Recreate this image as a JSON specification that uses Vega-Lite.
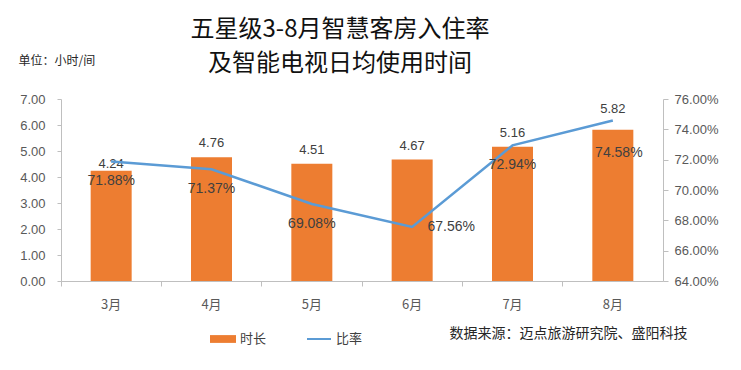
{
  "$schema": "https://vega.github.io/schema/vega-lite/v6.json",
  "width": 602,
  "height": 182,
  "autosize": {"type": "none"},
  "padding": {"left": 61, "top": 99, "right": 78, "bottom": 89},
  "background": "white",
  "config": {
    "view": {"stroke": null},
    "font": "Liberation Sans",
    "axis": {"grid": false, "domainColor": "#BFBFBF", "tickColor": "#BFBFBF", "labelColor": "#595959", "labelFontSize": 13, "labelFont": "Liberation Sans"},
    "legend": {"labelFont": "Noto Sans CJK SC", "labelFontSize": 13, "labelColor": "#404040"}
  },
  "title": {
    "text": ["五星级3-8月智慧客房入住率", "及智能电视日均使用时间"],
    "font": "Noto Sans CJK SC",
    "fontSize": 24,
    "fontWeight": "normal",
    "lineHeight": 34,
    "color": "#111111",
    "anchor": "middle",
    "dx": -22,
    "offset": -22
  },
  "data": {
    "values": [
      {"month": "3月", "hours": 4.24, "rate": 0.7188},
      {"month": "4月", "hours": 4.76, "rate": 0.7137},
      {"month": "5月", "hours": 4.51, "rate": 0.6908},
      {"month": "6月", "hours": 4.67, "rate": 0.6756},
      {"month": "7月", "hours": 5.16, "rate": 0.7294},
      {"month": "8月", "hours": 5.82, "rate": 0.7458}
    ]
  },
  "encoding": {
    "x": {
      "field": "month",
      "type": "nominal",
      "sort": null,
      "scale": {"paddingInner": 0, "paddingOuter": 0},
      "axis": {
        "labelAngle": 0,
        "labelFont": "Noto Sans CJK SC",
        "labelPadding": 12,
        "tickSize": 5,
        "bandPosition": 0,
        "title": "数据来源：迈点旅游研究院、盛阳科技",
        "titleFont": "Noto Sans CJK SC",
        "titleFontSize": 14,
        "titleFontWeight": "normal",
        "titleColor": "#262626",
        "titleAnchor": "end",
        "titleAlign": "right",
        "titleBaseline": "middle",
        "titleX": 626,
        "titleY": 52
      }
    }
  },
  "layer": [
    {
      "mark": {"type": "bar", "size": 41},
      "encoding": {
        "y": {
          "field": "hours",
          "type": "quantitative",
          "scale": {"domain": [0, 7], "nice": false},
          "axis": {
            "values": [0, 1, 2, 3, 4, 5, 6, 7],
            "format": ".2f",
            "tickSize": 4,
            "labelPadding": 12,
            "title": "单位：小时/间",
            "titleFont": "Noto Sans CJK SC",
            "titleFontSize": 12,
            "titleFontWeight": "normal",
            "titleColor": "#262626",
            "titleAngle": 0,
            "titleAlign": "left",
            "titleBaseline": "middle",
            "titleX": -43,
            "titleY": -39
          }
        },
        "fill": {
          "datum": "时长",
          "scale": {"range": ["#ED7D31"]},
          "legend": {
            "title": null,
            "orient": "none",
            "legendX": 149,
            "legendY": 227,
            "symbolType": "M-1,-0.3H1V0.3H-1Z",
            "symbolSize": 676,
            "symbolStrokeWidth": 0
          }
        }
      }
    },
    {
      "mark": {
        "type": "text",
        "fontSize": 13,
        "color": "#404040",
        "baseline": "middle",
        "dy": {"expr": "datum.month === '3月' ? -7 : datum.month === '8月' ? -21 : -14"}
      },
      "encoding": {
        "y": {"field": "hours", "type": "quantitative", "scale": {"domain": [0, 7], "nice": false}, "axis": null},
        "text": {"field": "hours", "type": "quantitative", "format": ".2f"}
      }
    },
    {
      "mark": {"type": "line", "interpolate": "linear", "strokeWidth": 2.5},
      "encoding": {
        "y": {
          "field": "rate",
          "type": "quantitative",
          "scale": {"domain": [0.64, 0.76], "nice": false},
          "axis": {
            "orient": "right",
            "values": [0.64, 0.66, 0.68, 0.70, 0.72, 0.74, 0.76],
            "format": ".2%",
            "tickSize": 5,
            "labelPadding": 6,
            "title": null
          }
        },
        "stroke": {
          "datum": "比率",
          "scale": {"range": ["#5B9BD5"]},
          "legend": {
            "title": null,
            "orient": "none",
            "legendX": 245,
            "legendY": 227,
            "symbolType": "stroke",
            "symbolSize": 576,
            "symbolStrokeWidth": 2
          }
        }
      }
    },
    {
      "mark": {
        "type": "text",
        "fontSize": 14,
        "color": "#404040",
        "baseline": "middle",
        "dx": {"expr": "datum.month === '6月' ? 39 : datum.month === '8月' ? 6 : 0"},
        "dy": {"expr": "datum.month === '6月' ? 0 : datum.month === '8月' ? 32 : 20"}
      },
      "encoding": {
        "y": {"field": "rate", "type": "quantitative", "scale": {"domain": [0.64, 0.76], "nice": false}, "axis": null},
        "text": {"field": "rate", "type": "quantitative", "format": ".2%"}
      }
    }
  ],
  "resolve": {"scale": {"y": "independent", "fill": "independent", "stroke": "independent"}}
}
